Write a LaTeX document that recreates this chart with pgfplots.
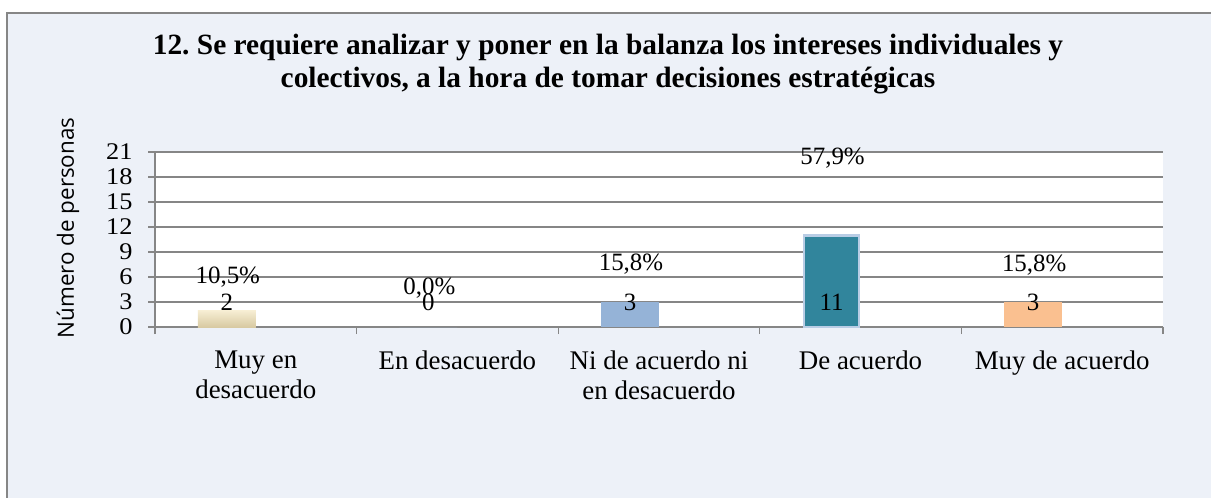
\documentclass[border=0pt]{standalone}
\usepackage{pgfplots}
\pgfplotsset{compat=1.18}
\usepackage{fontspec}
\setmainfont{Liberation Serif}
\newfontfamily\labelfont{Open Sans}
\newfontfamily\tickfont[FakeStretch=1.1]{Liberation Serif}
\definecolor{bgc}{RGB}{237,241,248}
\definecolor{framec}{RGB}{134,134,134}
\definecolor{gridc}{RGB}{134,134,134}
\definecolor{cA}{RGB}{247,238,212}
\definecolor{cAd}{RGB}{216,202,162}
\definecolor{cC}{RGB}{149,179,215}
\definecolor{cD}{RGB}{49,133,156}
\definecolor{cDg}{RGB}{185,205,229}
\definecolor{cE}{RGB}{250,192,144}
\begin{document}
\begin{tikzpicture}
\useasboundingbox (0bp,0bp) rectangle (1211bp,-498bp);
\fill[bgc] (7bp,-13bp) rectangle (1225bp,-510bp);
\draw[framec, line width=1.5bp] (7bp,-510bp) -- (7bp,-13bp) -- (1225bp,-13bp);
\node[font=\fontsize{29.5}{33}\selectfont\bfseries, align=center] at (608bp,-64bp)
  {12.\ Se requiere analizar y poner en la balanza los intereses individuales y\\colectivos, a la hora de tomar decisiones estratégicas};
\node[rotate=90, font=\labelfont\fontsize{22.5}{24}\selectfont] at (68bp,-228bp) {Número de personas};
\begin{axis}[
  at={(155bp,-327bp)}, anchor=south west,
  scale only axis, width=1008bp, height=175bp,
  xmin=-0.5, xmax=4.5, ymin=0, ymax=21,
  ytick={0,3,...,21},
  xtick={-0.5,0.5,...,4.5},
  x tick label as interval,
  xticklabels={{Muy en\\desacuerdo},{En desacuerdo},{Ni de acuerdo ni\\en desacuerdo},{De acuerdo},{Muy de acuerdo}},
  xticklabel style={align=center, font=\fontsize{27}{30}\selectfont, yshift=-13bp},
  yticklabel style={font=\tickfont\fontsize{24}{25}\selectfont, xshift=-12bp},
  /pgf/number format/assume math mode=true,
  axis x line*=bottom, axis y line*=left,
  axis line style={draw=gridc, line width=1.3bp, -},
  tick align=outside, major tick length=7bp,
  tick style={draw=gridc, line width=1.3bp},
  ymajorgrids, grid style={draw=gridc, line width=1.3bp},
  axis background/.style={fill=white},
  clip=false,
]
\addplot[ybar, bar width=58bp, bar shift=-29bp, draw=none, left color=cA, right color=cAd, shading angle=0] coordinates {(0,2)};
\addplot[ybar, bar width=58bp, bar shift=-29bp, draw=none, fill=cC] coordinates {(1,0)};
\addplot[ybar, bar width=58bp, bar shift=-29bp, draw=none, fill=cC] coordinates {(2,3)};
\addplot[ybar, bar width=55bp, bar shift=-29bp, draw=cDg, line width=2.5bp, fill=cD] coordinates {(3,11)};
\addplot[ybar, bar width=58bp, bar shift=-29bp, draw=none, fill=cE] coordinates {(4,3)};
\addplot[draw=none, mark=none, nodes near coords, point meta=explicit symbolic,
  nodes near coords style={anchor=center, xshift=-29bp, font=\fontsize{25}{26}\selectfont}]
  table[meta=l] {
x y l
0 3 2
1 3 0
2 3 3
3 3 11
4 3 3
};
\addplot[draw=none, mark=none, nodes near coords, point meta=explicit symbolic,
  nodes near coords style={anchor=center, xshift=-28bp, font=\fontsize{25}{26}\selectfont}]
  table[meta=l] {
x y l
0 6.0 10,5\%
1 4.7 0,0\%
2 7.5 15,8\%
3 20.3 57,9\%
4 7.4 15,8\%
};
\end{axis}
\end{tikzpicture}
\end{document}
